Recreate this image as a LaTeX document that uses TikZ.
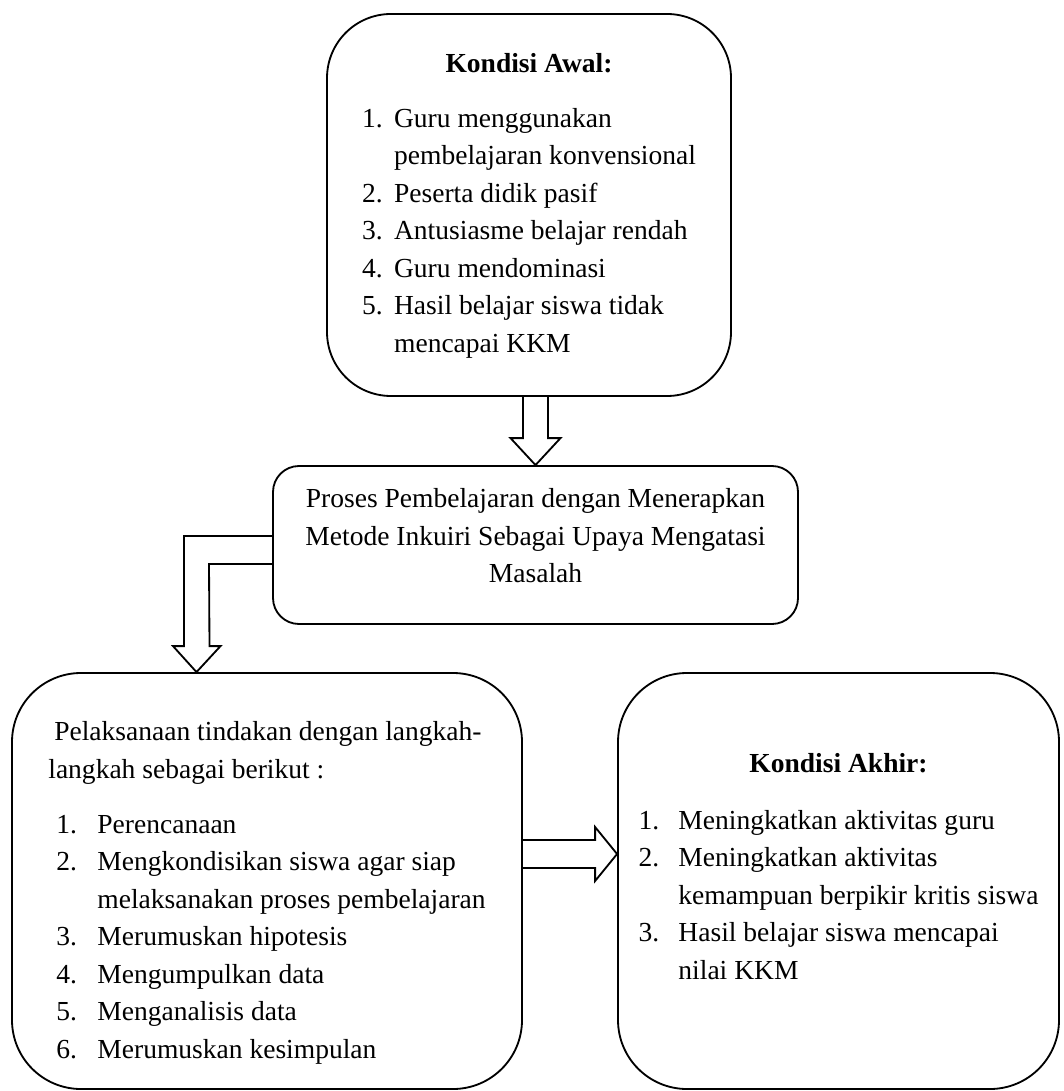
\documentclass[tikz,border=0pt]{standalone}
\usepackage{fontspec}
\setmainfont{Liberation Serif}
\usetikzlibrary{calc}
\newlength\unitpx
\setlength\unitpx{0.436pt}
\begin{document}
\begin{tikzpicture}[x=0.436pt, y=-0.436pt,
        roundbox/.style={rectangle, draw, line width=0.8pt, rounded corners=#1, inner sep=0pt, font=\fontsize{12}{16.35}\selectfont},
        blockarrow/.style={draw, line width=0.8pt, line join=miter}]
    \useasboundingbox (0,0) rectangle (1063,1091);
    \node[roundbox=64\unitpx, minimum width=404\unitpx, minimum height=382\unitpx] (awal) at (529,205) {%
        \begin{tabular}{@{}p{14pt}@{}l@{}}
        \multicolumn{2}{c}{\textbf{Kondisi Awal:}}\\[7.6pt]
        1. & Guru menggunakan\\
           & pembelajaran konvensional\\
        2. & Peserta didik pasif\\
        3. & Antusiasme belajar rendah\\
        4. & Guru mendominasi\\
        5. & Hasil belajar siswa tidak\\
           & mencapai KKM
        \end{tabular}};
    \node[roundbox=26\unitpx, minimum width=525\unitpx, minimum height=158\unitpx] (proses) at (535.5,545) {%
        \begin{tabular}{@{}c@{}}
        Proses Pembelajaran dengan Menerapkan\\
        Metode Inkuiri Sebagai Upaya Mengatasi\\
        Masalah\\[6.4pt]
        \end{tabular}};
    \node[roundbox=69\unitpx, minimum width=510\unitpx, minimum height=416\unitpx] (pelaks) at (267,881) {%
        \begin{tabular}{@{}p{21.4pt}@{}l@{}}
        \multicolumn{2}{@{}l@{}}{\rule{0pt}{21pt}\hspace{2.6pt}Pelaksanaan tindakan dengan langkah-}\\
        \multicolumn{2}{@{}l@{}}{langkah sebagai berikut :}\\[7.6pt]
        \hspace{3.5pt}1. & Perencanaan\\
        \hspace{3.5pt}2. & Mengkondisikan siswa agar siap\\
                         & melaksanakan proses pembelajaran\\
        \hspace{3.5pt}3. & Merumuskan hipotesis\\
        \hspace{3.5pt}4. & Mengumpulkan data\\
        \hspace{3.5pt}5. & Menganalisis data\\
        \hspace{3.5pt}6. & Merumuskan kesimpulan
        \end{tabular}};
    \node[roundbox=69\unitpx, minimum width=441\unitpx, minimum height=416\unitpx] (akhir) at (838.5,881) {%
        \begin{tabular}{@{}p{17.4pt}@{}l@{}}
        \multicolumn{2}{c}{\textbf{Kondisi Akhir:}}\\[8.4pt]
        1. & Meningkatkan aktivitas guru\\
        2. & Meningkatkan aktivitas\\
           & kemampuan berpikir kritis siswa\\
        3. & Hasil belajar siswa mencapai\\
           & nilai KKM\\[11pt]
        \end{tabular}};
    \coordinate (lbend) at (196.5,550);
    \coordinate (rmid) at (570,854);
    \draw[blockarrow] ($(proses.north |- awal.south)+(-12.5,0)$) -- ($(proses.north)+(-12.5,-27)$) -- ++(-12.5,0) -- (proses.north)
        -- ++(25,-27) -- ++(-12.5,0) -- ($(proses.north |- awal.south)+(12.5,0)$);
    \draw[blockarrow] ($(proses.west |- lbend)+(0,-14)$) -- ($(lbend)+(-12.5,-14)$) -- ($(lbend |- pelaks.north)+(-12.5,-26)$) -- ++(-11,0)
        -- (lbend |- pelaks.north) -- ++(24,-26) -- ++(-11,0) -- ($(lbend)+(12.5,14)$) -- ($(proses.west |- lbend)+(0,14)$);
    \draw[blockarrow] ($(pelaks.east |- rmid)+(0,-14)$) -- ($(akhir.west |- rmid)+(-22,-14)$) -- ++(0,-13) -- (akhir.west |- rmid)
        -- ++(-22,27) -- ++(0,-13) -- ($(pelaks.east |- rmid)+(0,14)$);
\end{tikzpicture}
\end{document}
